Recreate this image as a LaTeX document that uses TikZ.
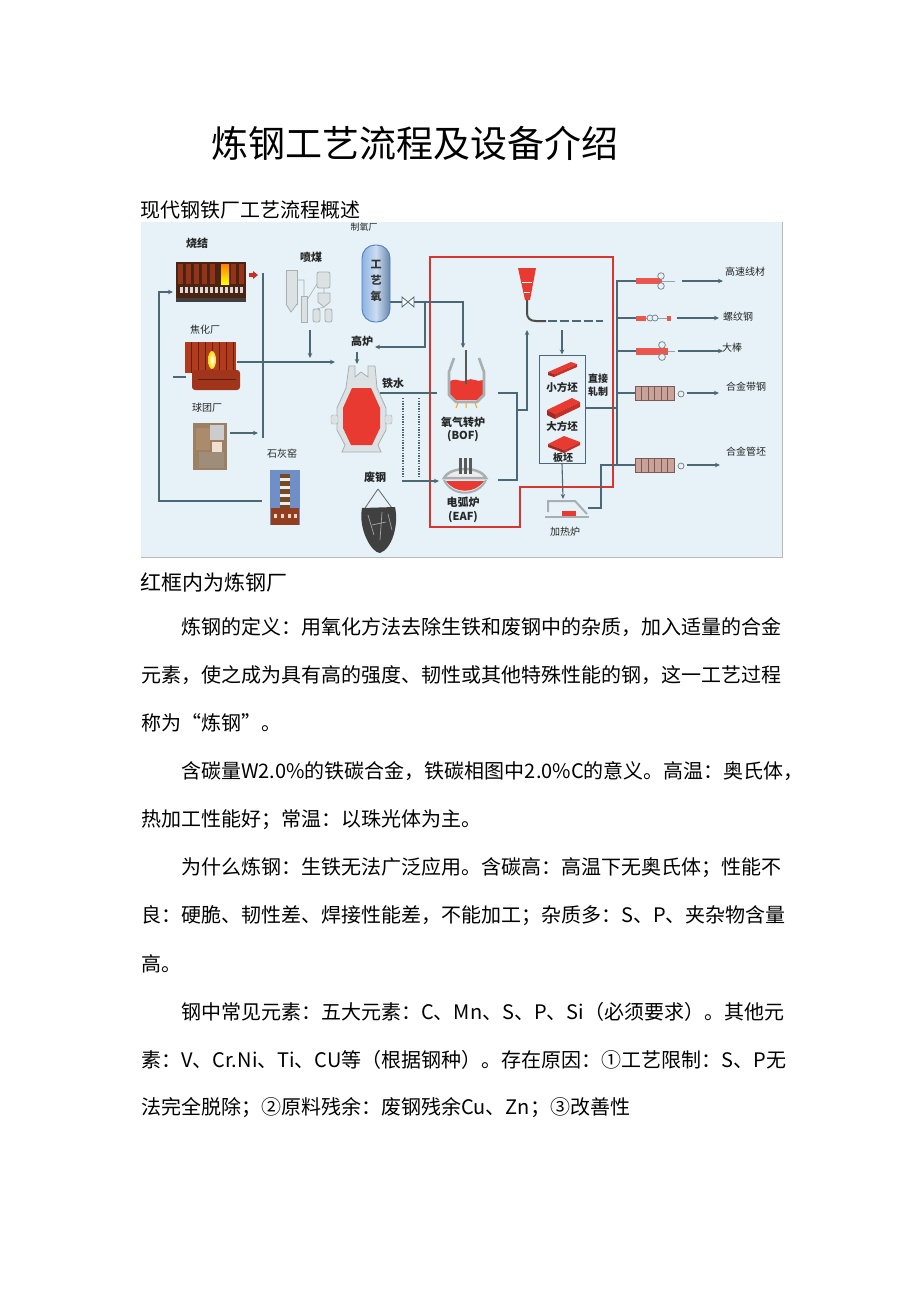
\documentclass[tikz,border=0pt]{standalone}
\usepackage{fontspec}
\setmainfont{Noto Sans CJK SC}
\usetikzlibrary{arrows.meta}
\definecolor{bgblue}{HTML}{E6F2F7}
\definecolor{ln}{HTML}{4D6875}
\definecolor{rbox}{HTML}{D93530}
\definecolor{molten}{HTML}{E83A30}
\definecolor{eqgray}{HTML}{A7AFB3}
\definecolor{eqlight}{HTML}{DCE1E3}
\definecolor{tankblue}{HTML}{8DB3E2}
\definecolor{tankedge}{HTML}{4F7FC0}
\definecolor{rust}{HTML}{B23B1E}
\definecolor{darkbrown}{HTML}{4A2410}
\definecolor{sky}{HTML}{6F8FC6}
\definecolor{stand}{HTML}{C9A39A}
\definecolor{standedge}{HTML}{7A5A52}
\tikzset{
  flow/.style={draw=ln, line width=1.1pt},
  arr/.style={flow, -{Stealth[length=5pt,width=4.5pt]}},
  lab/.style={inner sep=0pt, text=black!85, font=\fontsize{10}{12}\selectfont},
  blab/.style={inner sep=0pt, text=black!85, font=\bfseries\fontsize{11}{13}\selectfont},
  body/.style={anchor=west, inner sep=0pt, font=\fontsize{20}{24}\selectfont},
  eqbox/.style={inner sep=0pt, draw=none},
  dotline/.style={draw=ln, line width=1.6pt, dash pattern=on 1.3pt off 1.3pt},
  roll/.style={draw=eqgray!70!black, fill=bgblue, line width=0.7pt},
  vessel/.style={draw=eqgray, line width=2.6pt, line join=round},
}
\begin{document}
\begin{tikzpicture}[x=1pt,y=-1pt]
\fill[white] (0,0) rectangle (920,1301);
\useasboundingbox (0,0) rectangle (920,1301);

% ---------- headings ----------
\node[inner sep=0pt, font=\fontsize{37}{44}\selectfont] (title) at (415,143) {炼钢工艺流程及设备介绍};
\node[body] (subtitle) at (140,210) {现代钢铁厂工艺流程概述};

% ---------- diagram background ----------
\fill[bgblue] (141,222) rectangle (782,557);
\draw[gray!55, line width=1pt] (141,557) -- (782,557) -- (782,222);

% ---------- red box (steel plant) ----------
\draw[rbox, line width=2.6pt, line join=miter] (430,257) -- (613,257) -- (613,487) -- (520,487) -- (520,527) -- (430,527) -- cycle;

% ---------- sinter ----------
\node[eqbox, minimum width=70pt, minimum height=40pt] (sinter) at (211,282) {};
\fill[darkbrown] (176,262) rectangle (246,302);
\foreach \x in {178,186,194,202,210,231,239} \fill[rust!70!darkbrown] (\x,264) rectangle +(5,20);
\shade[top color=orange, bottom color=yellow] (221,264) rectangle (229,284);
\foreach \x in {180,185,...,240} \fill[gray!30] (\x,287) rectangle +(3,6);
\fill[black!75] (176,298) rectangle (246,302);
\fill[molten!85!black] (249,273) rectangle (253,277);
\fill[molten!85!black] (253,271) -- (258,275) -- (253,279) -- cycle;
\node[blab] (sinterlab) at (197,243) {烧结};

% ---------- coke plant ----------
\node[eqbox, minimum width=57pt, minimum height=50pt] (coke) at (211,365) {};
\fill[rust] (185,342) rectangle (236,373);
\foreach \x in {191,198,...,233} \draw[rust!55!black, line width=0.6pt] (\x,342) -- (\x,373);
\shade[inner color=white, outer color=yellow!70!orange] (212,360) ellipse (4 and 9);
\fill[rust!90!black, rounded corners=3pt] (192,370) rectangle (240,390);
\draw[rust!50!black, line width=0.7pt] (198,379) -- (236,379);
\draw[flow] (173,377) -- (186,377);
\node[lab] (cokelab) at (205,330) {焦化厂};

% ---------- pellet plant ----------
\node[eqbox, minimum width=34pt, minimum height=47pt] (pellet) at (210,446) {};
\fill[brown!45!gray] (193,423) rectangle (227,470);
\fill[brown!70!black!70] (196,428) rectangle (210,450);
\fill[gray!40] (210,425) rectangle (224,440);
\fill[brown!50!black!60] (199,452) rectangle (224,468);
\fill[white!75!brown] (212,442) rectangle (222,452);
\node[lab] (pelletlab) at (207,408) {球团厂};

% ---------- lime kiln ----------
\node[eqbox, minimum width=30pt, minimum height=55pt] (lime) at (285,497) {};
\fill[sky] (270,470) rectangle (300,525);
\fill[brown!60!black] (280,474) rectangle (290,512);
\foreach \y in {478,486,494,502} \fill[white!85!gray] (280,\y) rectangle (290,\y+3);
\fill[brown!70!red!70!black] (271,508) rectangle (299,525);
\foreach \x in {274,281,288,294} \fill[white!70!brown] (\x,514) rectangle +(3,4);
\node[lab] (limelab) at (282,454) {石灰窑};

% ---------- coal injection ----------
\node[eqbox, minimum width=50pt, minimum height=55pt] (coal) at (309,296) {};
\begin{scope}[draw=eqgray, line width=0.8pt]
\draw[fill=eqlight] (286,270) rectangle (297,304);
\draw[fill=eqlight] (286,304) -- (291,312) -- (297,304);
\draw[fill=eqlight] (301,296) rectangle (307,322);
\draw[fill=eqlight, rounded corners=2pt] (317,272) rectangle (330,288);
\draw[fill=eqlight] (318,293) -- (330,293) -- (330,302) -- (324,307) -- (318,302) -- cycle;
\draw[fill=eqlight, rounded corners=2pt] (313,309) rectangle (320,322);
\draw[fill=eqlight, rounded corners=2pt] (325,309) rectangle (332,322);
\draw[line width=0.6pt] (297,280) -- (304,280) -- (304,296) (307,300) -- (317,284) (324,288) -- (324,293) (324,307) -- (317,309);
\end{scope}
\node[blab] (coallab) at (311,257) {喷煤};

% ---------- oxygen plant ----------
\shade[left color=tankblue, right color=tankblue!75!black, middle color=white!55!tankblue, rounded corners=13pt] (362,245) rectangle (390,322);
\draw[tankedge, line width=0.9pt, rounded corners=13pt] (362,245) rectangle (390,322);
\node[inner sep=0pt, align=center, text=black!80, font=\bfseries\fontsize{11}{16}\selectfont] (tank) at (376,281) {工\\艺\\氧};
\node[lab, font=\fontsize{9}{11}\selectfont] (o2lab) at (364,227) {制氧厂};
\node[eqbox, minimum width=12pt, minimum height=10pt] (valve) at (408,302) {};
\draw[ln, fill=white, line width=0.8pt] (402,297) -- (414,307) -- (414,297) -- (402,307) -- cycle;

% ---------- blast furnace ----------
\node[eqbox, minimum width=58pt, minimum height=86pt] (bf) at (361,409) {};
\draw[eqgray, fill=eqlight, line width=0.8pt] (349,366) -- (355,366) -- (355,377) -- (361,372) -- (368,377) -- (368,366) -- (375,366) -- (377,388) -- (386,408) -- (386,430) -- (378,445) -- (381,452) -- (342,452) -- (345,445) -- (337,430) -- (337,408) -- (346,388) -- cycle;
\fill[molten] (352,388) -- (371,388) -- (380,408) -- (380,428) -- (372,445) -- (351,445) -- (343,428) -- (343,408) -- cycle;
\draw[eqgray, fill=eqlight, rounded corners=2pt] (331,415) rectangle (338,424);
\draw[eqgray, fill=eqlight, rounded corners=2pt] (385,415) rectangle (392,424);
\node[blab] (bflab) at (362,341) {高炉};

% ---------- BOF ----------
\node[eqbox, minimum width=38pt, minimum height=50pt] (bof) at (466,382) {};
\fill[molten] (450,381) .. controls (458,377) and (462,384) .. (467,380) .. controls (472,377) and (477,383) .. (483,380) -- (483,394) -- (477,400) -- (456,400) -- (450,394) -- cycle;
\draw[vessel] (454,358) -- (449,372) -- (449,395) -- (456,402) -- (477,402) -- (484,395) -- (484,372) -- (479,358);
\draw[gray!70!black, line width=1.4pt] (466,350) -- (466,384);
\draw[orange!70!yellow, line width=1pt] (458,403) -- (456,408) (466,403) -- (466,408) (475,403) -- (477,408);
\node[blab] (boflab) at (463,422) {氧气转炉};
\node[blab] (boflab2) at (463,436) {(BOF)};

% ---------- EAF ----------
\node[eqbox, minimum width=46pt, minimum height=32pt] (eaf) at (465,477) {};
\fill[molten] (446,481) .. controls (455,494) and (475,494) .. (484,481) -- cycle;
\draw[eqgray, line width=2pt] (444,480) .. controls (452,497) and (478,497) .. (486,480);
\draw[eqgray, line width=2.5pt, fill=white!85!gray] (444,478) .. controls (450,466) and (480,466) .. (486,478) -- cycle;
\foreach \x in {459,464,469} \fill[gray!70!black] (\x,458) rectangle +(3,16);
\node[blab] (eaflab) at (463,502) {电弧炉};
\node[blab] (eaflab2) at (463,517) {(EAF)};

% ---------- continuous caster ----------
\node[eqbox, minimum width=86pt, minimum height=55pt] (caster) at (560,294) {};
\fill[molten] (518,268) -- (536,268) -- (530,300) -- (525,300) -- cycle;
\draw[white, line width=0.6pt] (522,282) -- (532,282) (524,292) -- (530,292);
\draw[gray!60!black, line width=2pt] (527,300) -- (527,313) .. controls (527,318) and (530,321) .. (536,321) -- (546,321);
\draw[ln, line width=2pt, dash pattern=on 9pt off 3pt] (548,321) -- (603,321);

% ---------- billet box ----------
\node[draw=ln, line width=1pt, minimum width=46pt, minimum height=108pt, inner sep=0pt] (billets) at (562,409) {};
\fill[molten] (548,372) -- (571,362) -- (577,364) -- (554,374) -- cycle;
\fill[molten!85!black] (554,374) -- (577,364) -- (577,367) -- (554,377) -- cycle;
\fill[molten!70!black] (548,372) -- (554,374) -- (554,377) -- (548,375) -- cycle;
\fill[molten] (547,410) -- (572,398) -- (580,402) -- (555,414) -- cycle;
\fill[molten!85!black] (555,414) -- (580,402) -- (580,407) -- (555,419) -- cycle;
\fill[molten!70!black] (547,410) -- (555,414) -- (555,419) -- (547,415) -- cycle;
\fill[molten] (548,444) -- (564,436) -- (580,442) -- (564,450) -- cycle;
\fill[molten!85!black] (564,450) -- (580,442) -- (580,445) -- (564,453) -- cycle;
\fill[molten!70!black] (548,444) -- (564,450) -- (564,453) -- (548,447) -- cycle;
\node[blab, font=\bfseries\fontsize{10.5}{12}\selectfont] (b1) at (562,387) {小方坯};
\node[blab, font=\bfseries\fontsize{10.5}{12}\selectfont] (b2) at (562,426) {大方坯};
\node[blab, font=\bfseries\fontsize{10}{12}\selectfont] (b3) at (563,458) {板坯};
\node[blab, font=\bfseries\fontsize{10}{12}\selectfont, align=center] (direct) at (598,385) {直接\\[1pt]轧制};

% ---------- heating furnace ----------
\node[eqbox, minimum width=44pt, minimum height=18pt] (reheat) at (566,509) {};
\draw[eqgray, line width=2pt] (548,512) -- (548,501) -- (575,501) -- (587,514);
\draw[eqgray, line width=2pt] (545,517) -- (589,517);
\fill[molten] (562,511) rectangle (576,516);
\node[lab] (reheatlab) at (565,532) {加热炉};

% ---------- scrap ----------
\node[eqbox, minimum width=37pt, minimum height=65pt] (scrap) at (379,520) {};
\draw[black!60, line width=0.8pt] (378,489) -- (365,508) (378,489) -- (392,508);
\fill[black!75] (362,508) .. controls (358,530) and (372,553) .. (380,553) .. controls (392,549) and (399,525) .. (395,507) -- cycle;
\draw[gray!70, line width=0.7pt] (368,515) -- (374,535) (382,512) -- (380,540) (388,514) -- (392,530) (372,525) -- (386,522);
\node[blab] (scraplab) at (375,477) {废钢};

% ---------- hot metal ----------
\node[blab] (hmlab) at (393,383) {铁水};

% ---------- connectors ----------
\coordinate (fbA) at (262,501);
\coordinate (fbB) at (159,501);
\coordinate (fbC) at (159,292);
\coordinate (sinterIn) at (173,292);
\draw[arr] (fbA) -- (fbB) -- (fbC) -- (sinterIn);

\coordinate (colTop) at (263,273);
\coordinate (colBot) at (263,438);
\draw[flow] (colTop) -- (colBot);
\coordinate (cokeOut) at (237,362);
\coordinate (bfFeed) at (335,362);
\draw[arr] (cokeOut) -- (bfFeed);
\coordinate (pelOut) at (230,433);
\coordinate (pelIn) at (258,433);
\draw[arr] (pelOut) -- (pelIn);
\coordinate (coalOut) at (310,330);
\coordinate (coalIn) at (310,358);
\draw[arr] (coalOut) -- (coalIn);

\coordinate (tankOut) at (390,302);
\coordinate (o2J) at (425,302);
\coordinate (o2K) at (463,302);
\coordinate (o2bof) at (463,348);
\draw[flow] (tankOut) -- (valve.west);
\draw[arr] (valve.east) -- (o2K) -- (o2bof);
\coordinate (o2L) at (425,347);
\coordinate (o2bf) at (375,347);
\draw[arr] (o2J) -- (o2L) -- (o2bf);
\coordinate (bfA) at (357,352);
\coordinate (bfB) at (357,364);
\draw[arr] (bfA) -- (bfB);

\coordinate (hmA) at (380,393);
\coordinate (hmB) at (437,393);
\draw[flow] (hmA) -- (hmB);
\draw[dotline] (403,398) -- (403,477);
\draw[dotline] (419,398) -- (419,477);
\coordinate (scA) at (402,481);
\coordinate (scB) at (439,481);
\draw[arr] (scA) -- (scB);

\coordinate (bofOut) at (498,393);
\coordinate (eafOut) at (498,480);
\coordinate (mA) at (517,393);
\coordinate (mB) at (517,480);
\coordinate (mC) at (517,410);
\coordinate (mD) at (527,410);
\coordinate (mE) at (527,330);
\draw[flow] (bofOut) -- (mA) -- (mB) -- (eafOut);
\draw[arr] (mC) -- (mD) -- (mE);
\coordinate (csA) at (562,330);
\draw[arr] (csA) -- (billets.north -| csA);
\draw[arr] (billets.south) -- (563,499);

\coordinate (busTop) at (617,280);
\coordinate (busBot) at (617,465);
\draw[flow] (busTop) -- (busBot);
\draw[flow] (billets.east |- 0,408) -- (617,408);
\draw[flow] (588,508) -- (601,508) -- (601,465) -- (636,465);
\foreach \yy in {281,318,351,393} \draw[flow] (617,\yy) -- (636,\yy);

% ---------- rolling products ----------
\fill[molten!85!white] (636,278) rectangle (662,284);
\draw[ln!60, line width=0.8pt] (662,281) -- (675,281);
\draw[roll] (661,276) circle (3.3);
\draw[roll] (661,286) circle (3.3);
\fill[molten!85!white] (636,316) rectangle (646,321);
\draw[ln!60, line width=0.6pt] (646,318) -- (668,318);
\draw[roll] (650,318) circle (3);
\draw[roll] (655,318) circle (3);
\fill[molten!85!white] (667,316) rectangle (671,321);
\fill[molten!85!white] (636,348) rectangle (668,355);
\draw[ln!60, line width=0.8pt] (668,351) -- (675,351);
\draw[roll] (662,345) circle (3.4);
\draw[roll] (662,357) circle (3.4);
\foreach \cy in {393,465} {
  \draw[fill=stand, draw=standedge, line width=0.7pt] (635,\cy-7) rectangle (674,\cy+7);
  \foreach \xx in {641.5,648,654.5,661,667.5} \draw[standedge, line width=0.7pt] (\xx,\cy-7) -- (\xx,\cy+7);
  \draw[roll] (681,\cy+1) circle (3);
}
\draw[arr] (682,281) -- (723,281);
\draw[arr] (677,318) -- (719,318);
\draw[arr] (678,351) -- (723,351);
\draw[arr] (687,393) -- (719,393);
\draw[arr] (687,465) -- (720,465);
\node[lab, anchor=west] (p1) at (725,272) {高速线材};
\node[lab, anchor=west] (p2) at (723,317) {螺纹钢};
\node[lab, anchor=west] (p3) at (722,348) {大棒};
\node[lab, anchor=west] (p4) at (726,387) {合金带钢};
\node[lab, anchor=west] (p5) at (726,452) {合金管坯};

% ---------- caption and body text ----------
\node[body, font=\fontsize{21}{25}\selectfont] (caption) at (140,583) {红框内为炼钢厂};
\node[body] (l0) at (181,627.0) {炼钢的定义：用氧化方法去除生铁和废钢中的杂质，加入适量的合金};
\node[body] (l1) at (141,675.1) {元素，使之成为具有高的强度、韧性或其他特殊性能的钢，这一工艺过程};
\node[body] (l2) at (141,723.2) {称为“炼钢”。};
\node[body] (l3) at (181,771.3) {含碳量W2.0\%的铁碳合金，铁碳相图中2.0\%C的意义。高温：奥氏体，};
\node[body] (l4) at (141,819.4) {热加工性能好；常温：以珠光体为主。};
\node[body] (l5) at (181,867.5) {为什么炼钢：生铁无法广泛应用。含碳高：高温下无奥氏体；性能不};
\node[body] (l6) at (141,915.6) {良：硬脆、韧性差、焊接性能差，不能加工；杂质多：S、P、夹杂物含量};
\node[body] (l7) at (141,963.7) {高。};
\node[body] (l8) at (181,1011.8) {钢中常见元素：五大元素：C、Mn、S、P、Si（必须要求）。其他元};
\node[body] (l9) at (141,1059.9) {素：V、Cr.Ni、Ti、CU等（根据钢种）。存在原因：①工艺限制：S、P无};
\node[body] (l10) at (141,1108.0) {法完全脱除；②原料残余：废钢残余Cu、Zn；③改善性};
\end{tikzpicture}
\end{document}
